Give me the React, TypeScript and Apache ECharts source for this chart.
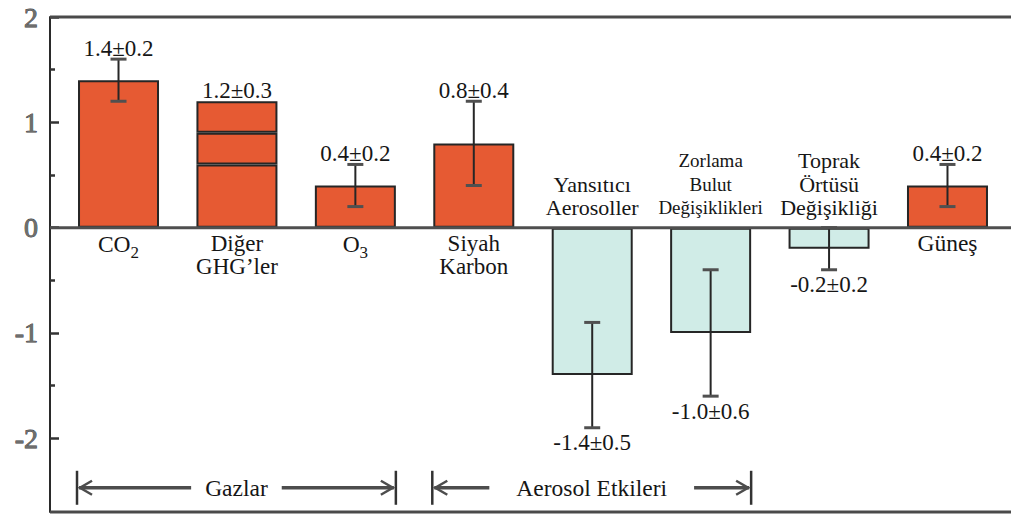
import React, { useEffect, useRef } from "react";
import * as echarts from "echarts";

const categories = [
  "CO2",
  "Diğer GHG’ler",
  "O3",
  "Siyah Karbon",
  "Yansıtıcı Aerosoller",
  "Zorlama Bulut Değişiklikleri",
  "Toprak Örtüsü Değişikliği",
  "Güneş",
];
const categoryLabels = [
  "{m|CO}{sub|2}",
  "Diğer\nGHG’ler",
  "{m|O}{sub|3}",
  "Siyah\nKarbon",
  "Yansıtıcı\nAerosoller",
  "Zorlama\nBulut\nDeğişiklikleri",
  "Toprak\nÖrtüsü\nDeğişikliği",
  "Güneş",
];
const values = [1.4, 1.2, 0.4, 0.8, -1.4, -1.0, -0.2, 0.4];
const uncertainties = [0.2, 0.3, 0.2, 0.4, 0.5, 0.6, 0.2, 0.2];
const hasErrorBar = [true, false, true, true, true, true, true, true];
const otherGhgSegments = [0.6, 0.3, 0.3];
const otherGhgIndex = 1;
const yTicks = [-2, -1, 0, 1, 2];
const yMinorTicks = [-1.5, -0.5, 0.5, 1.5];
const yMin = -2.7;
const yMax = 2;
const groupLabels = ["Gazlar", "Aerosol Etkileri"];
const groupFrom = [0, 3];
const groupTo = [2, 5];
const groupLevel = -2.47;

const FONT = "Liberation Serif";
const ORANGE = "#E65A33";
const CYAN = "#D0ECE7";
const BAR_W = 81;
const bracketGaps = [14, 27];
const catFontSizes = [23.5, 23, 23.5, 23, 22, 19, 22, 23.5];
const valueFontSize = 23;
const bracketFontSize = 23.5;

export default function App() {
  const ref = useRef<HTMLDivElement>(null);
  useEffect(() => {
    document.body.style.margin = "0";
    const chart = echarts.init(ref.current!, null, { renderer: "svg" });

    const baseData = values.map((v, i) =>
      i === otherGhgIndex ? otherGhgSegments[0] : v
    );
    const seg2 = values.map((_, i) => (i === otherGhgIndex ? otherGhgSegments[1] : null));
    const seg3 = values.map((_, i) => (i === otherGhgIndex ? otherGhgSegments[2] : null));

    const mkBar = (data: any[], z: number) => ({
      type: "bar",
      stack: "total",
      barWidth: BAR_W,
      data: data.map((v, i) => ({
        value: v,
        itemStyle: {
          color: values[i] >= 0 ? ORANGE : CYAN,
          borderColor: "#262626",
          borderWidth: 2,
        },
      })),
      z,
      silent: true,
    });

    const option: any = {
      animation: false,
      backgroundColor: "#ffffff",
      textStyle: { fontFamily: FONT },
      grid: { left: 59.3, right: 4.3, top: 17, bottom: 3, containLabel: false },
      xAxis: {
        type: "category",
        data: categories,
        axisLine: { show: false },
        axisTick: { show: false },
        axisLabel: { show: false },
        splitLine: { show: false },
      },
      yAxis: [
        {
          type: "value",
          min: yMin,
          max: yMax,
          offset: 9.3,
          position: "left",
          splitLine: { show: false },
          axisLine: { show: true, lineStyle: { color: "#2a2a2a", width: 2 } },
          axisTick: {
            show: true,
            inside: true,
            length: 9,
            customValues: yTicks,
            lineStyle: { color: "#333", width: 2.5 },
          },
          axisLabel: {
            customValues: yTicks,
            fontFamily: FONT,
            fontSize: 28,
            color: "#6e6e6e",
            textBorderColor: "#3a3a3a",
            textBorderWidth: 0.8,
            margin: 12,
            formatter: (v: number) => String(v),
          },
        },
        {
          type: "value",
          min: yMin,
          max: yMax,
          offset: 9.3,
          position: "left",
          splitLine: { show: false },
          axisLine: { show: false },
          axisTick: {
            show: true,
            inside: true,
            length: 5,
            customValues: yMinorTicks,
            lineStyle: { color: "#333", width: 2.5 },
          },
          axisLabel: { show: false },
        },
      ],
      series: [
        mkBar(baseData, 2),
        mkBar(seg2, 2),
        mkBar(seg3, 2),
        {
          type: "custom",
          z: 5,
          silent: true,
          data: values.map((v, i) => [i, v]),
          encode: { x: 0, y: 1 },
          renderItem: (params: any, api: any) => {
            const i = params.dataIndex;
            const v = values[i];
            const e = uncertainties[i];
            const [cx, yv] = api.coord([i, v]);
            const y0 = api.coord([i, 0])[1];
            const hi = api.coord([i, v + e])[1];
            const lo = api.coord([i, v - e])[1];
            const children: any[] = [];
            if (hasErrorBar[i]) {
              children.push({
                type: "line",
                shape: { x1: cx, y1: hi, x2: cx, y2: lo },
                style: { stroke: "#262626", lineWidth: 2 },
              });
              [hi, lo].forEach((y) =>
                children.push({
                  type: "line",
                  shape: { x1: cx - 8, y1: y, x2: cx + 8, y2: y },
                  style: { stroke: "#505050", lineWidth: 3 },
                })
              );
            }
            const pos = v >= 0;
            const anchor = hasErrorBar[i] ? (pos ? hi : lo) : yv;
            children.push({
              type: "text",
              x: cx,
              y: pos ? anchor - 11 : anchor + 15,
              style: {
                text: `${v.toFixed(1)}±${e.toFixed(1)}`,
                fontFamily: FONT,
                fontSize: valueFontSize,
                fill: "#161616",
                align: "center",
                verticalAlign: "middle",
              },
            });
            const fs = catFontSizes[i];
            children.push({
              type: "text",
              x: cx,
              y: pos ? y0 + 4 : y0 - 8,
              style: {
                text: categoryLabels[i],
                fontFamily: FONT,
                fontSize: fs,
                lineHeight: 23.5,
                fill: "#161616",
                align: "center",
                verticalAlign: pos ? "top" : "bottom",
                rich: {
                  m: { fontFamily: FONT, fontSize: fs, lineHeight: 23.5, verticalAlign: "top", fill: "#161616" },
                  sub: {
                    fontFamily: FONT,
                    fontSize: 17,
                    lineHeight: 16,
                    padding: [12, 0, 0, 0],
                    verticalAlign: "top",
                    fill: "#161616",
                  },
                },
              },
            });
            return { type: "group", children };
          },
        },
      ],
    };
    chart.setOption(option);

    const py = (v: number) => chart.convertToPixel({ yAxisIndex: 0 }, v) as number;
    const px = (i: number) => chart.convertToPixel({ xAxisIndex: 0 }, i) as number;
    const y0 = py(0);
    const yTop = py(yMax);
    const yBot = py(yMin);
    const yBr = py(groupLevel);
    const L = 50;
    const R = 1011;

    const canvas = document.createElement("canvas");
    const ctx = canvas.getContext("2d")!;
    ctx.font = `${bracketFontSize}px ${FONT}`;

    const graphics: any[] = [
      { type: "line", z: 20, shape: { x1: L, y1: yTop, x2: R, y2: yTop }, style: { stroke: "#4a4a4a", lineWidth: 3 } },
      { type: "line", z: 20, shape: { x1: L, y1: y0, x2: R, y2: y0 }, style: { stroke: "#4f4f4f", lineWidth: 3 } },
      { type: "line", z: 20, shape: { x1: L, y1: yBot, x2: R, y2: yBot }, style: { stroke: "#4a4a4a", lineWidth: 3 } },
    ];

    groupLabels.forEach((label, g) => {
      const xL = px(groupFrom[g]) - BAR_W / 2 - 1;
      const xR = px(groupTo[g]) + BAR_W / 2;
      const c = (xL + xR) / 2;
      const half = ctx.measureText(label).width / 2;
      const gap = bracketGaps[g];
      const stroke = "#4d4d4d";
      graphics.push(
        { type: "line", z: 20, shape: { x1: xL, y1: yBr - 17, x2: xL, y2: yBr + 17 }, style: { stroke: "#333", lineWidth: 2.5 } },
        { type: "line", z: 20, shape: { x1: xR, y1: yBr - 17, x2: xR, y2: yBr + 17 }, style: { stroke: "#333", lineWidth: 2.5 } },
        { type: "line", z: 20, shape: { x1: xL + 2, y1: yBr, x2: c - half - gap, y2: yBr }, style: { stroke, lineWidth: 3.5 } },
        { type: "line", z: 20, shape: { x1: c + half + gap, y1: yBr, x2: xR - 2, y2: yBr }, style: { stroke, lineWidth: 3.5 } },
        {
          type: "polyline",
          z: 20,
          shape: { points: [[xL + 15, yBr - 7], [xL + 3, yBr], [xL + 15, yBr + 7]] },
          style: { stroke, lineWidth: 2.5, fill: "none" },
        },
        {
          type: "polyline",
          z: 20,
          shape: { points: [[xR - 15, yBr - 7], [xR - 3, yBr], [xR - 15, yBr + 7]] },
          style: { stroke, lineWidth: 2.5, fill: "none" },
        },
        {
          type: "text",
          z: 20,
          x: c,
          y: yBr,
          style: {
            text: label,
            fontFamily: FONT,
            fontSize: bracketFontSize,
            fill: "#161616",
            align: "center",
            verticalAlign: "middle",
          },
        }
      );
    });

    chart.setOption({ graphic: graphics });

    return () => chart.dispose();
  }, []);

  return <div ref={ref} style={{ width: 1011, height: 515 }} />;
}
